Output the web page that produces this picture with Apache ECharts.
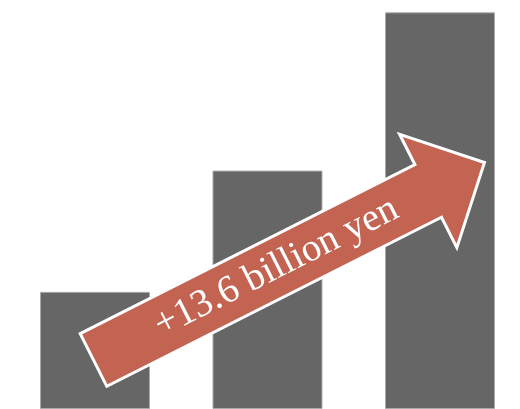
<!DOCTYPE html>
<html>
<head>
<meta charset="utf-8">
<script src="https://cdn.jsdelivr.net/npm/echarts@6/dist/echarts.min.js"></script>
<style>
  html, body { margin: 0; padding: 0; background: #fff; }
  #chart { width: 520px; height: 409px; }
</style>
</head>
<body>
<div id="chart"></div>
<script>
// Yearly totals (billion yen) and the headline increase
const categories = ['Year 1', 'Year 2', 'Year 3'];
const values = [5.7, 11.6, 19.3];
const increaseLabel = '+13.6 billion yen';

// Bars sit at the middle of each category slot (slot i spans i..i+1)
const barData = values.map((v, i) => ({ name: categories[i], value: [i + 0.5, v] }));

const chart = echarts.init(document.getElementById('chart'));

// Arrow geometry: tail centre, angle, shaft / head dimensions
const arrow = { cx: 93.5, cy: 360, angleDeg: 26.8, shaftLen: 375, shaftHalf: 29.5, headHalf: 63.5, totalLen: 438 };

function arrowPoints(a) {
  const r = a.angleDeg * Math.PI / 180;
  const ux = Math.cos(r), uy = -Math.sin(r);
  const nx = Math.sin(r), ny = Math.cos(r);
  const p = (along, side) => [a.cx + ux * along + nx * side, a.cy + uy * along + ny * side];
  return [
    p(0, -a.shaftHalf),
    p(a.shaftLen, -a.shaftHalf),
    p(a.shaftLen, -a.headHalf),
    p(a.totalLen, 0),
    p(a.shaftLen, a.headHalf),
    p(a.shaftLen, a.shaftHalf),
    p(0, a.shaftHalf)
  ];
}

const r = arrow.angleDeg * Math.PI / 180;
const labelAlong = 205;
const labelX = arrow.cx + Math.cos(r) * labelAlong;
const labelY = arrow.cy - Math.sin(r) * labelAlong;

chart.setOption({
  animation: false,
  grid: { left: 0, right: 0, top: 0, bottom: 0 },
  xAxis: { type: 'value', min: -0.0507, max: 2.9638, show: false },
  yAxis: { type: 'value', min: 0, max: 19.9, show: false },
  series: [{
    type: 'bar',
    data: barData,
    barWidth: 110,
    itemStyle: { color: '#666666', borderColor: '#aaaaaa', borderWidth: 1 }
  }],
  graphic: [
    {
      type: 'polygon',
      shape: { points: arrowPoints(arrow) },
      style: { fill: '#C36351', stroke: '#ffffff', lineWidth: 3, lineJoin: 'miter' },
      z: 100
    },
    {
      type: 'text',
      x: labelX,
      y: labelY,
      rotation: r,
      style: {
        text: increaseLabel,
        fill: '#ffffff',
        font: '39px "Liberation Serif", serif',
        textAlign: 'center',
        textVerticalAlign: 'middle'
      },
      z: 101
    }
  ]
});
</script>
</body>
</html>
